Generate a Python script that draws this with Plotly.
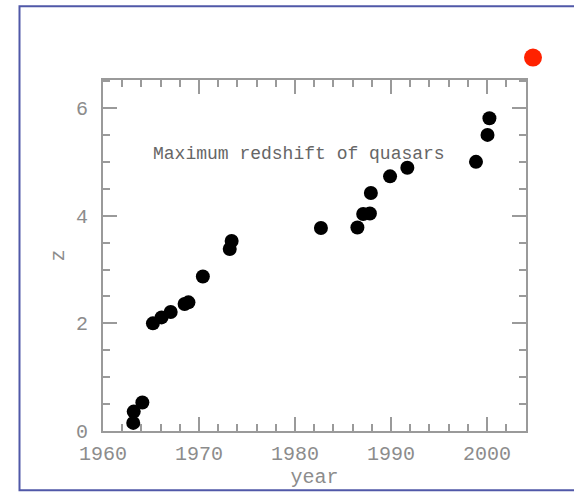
import plotly.graph_objects as go

# Discovery year and redshift of the most distant known quasar
years = [1963.15, 1963.2, 1964.1, 1965.2, 1966.1, 1967.05, 1968.5, 1968.9,
         1970.4, 1973.2, 1973.4, 1982.7, 1986.5, 1987.1, 1987.8, 1987.9,
         1989.9, 1991.7, 1998.85, 2000.05, 2000.25]
redshift = [0.15, 0.36, 0.53, 2.00, 2.11, 2.21, 2.36, 2.39,
            2.87, 3.38, 3.53, 3.77, 3.78, 4.03, 4.04, 4.42,
            4.73, 4.89, 5.00, 5.50, 5.81]

x_ticks = [1960, 1970, 1980, 1990, 2000]
y_ticks = [0, 2, 4, 6]

FONT = "Liberation Mono"
GRAY = "#8c8c8c"
AXC = "#9a9a9a"

# plot area in page pixels
L, R, T, B = 103, 526, 79.5, 431.5
W, H = 574, 493
pw, ph = R - L, B - T

def px(x):
    return (x - L) / pw

def py(y):
    return (B - y) / ph

fig = go.Figure(go.Scatter(
    x=years, y=redshift, mode="markers",
    marker=dict(color="black", size=14, line=dict(width=0)),
    hoverinfo="x+y",
))

axis_common = dict(
    showgrid=False, zeroline=False, showline=True, linecolor=AXC, linewidth=2,
    mirror="ticks", ticks="inside", ticklen=14, tickwidth=2, tickcolor=AXC,
    tickfont=dict(family=FONT, size=20, color=GRAY),
    title_font=dict(family=FONT, size=20, color=GRAY),
    automargin=False,
)

fig.update_xaxes(
    range=[1960, 2004.06], tickvals=x_ticks, ticktext=[str(v) for v in x_ticks],
    minor=dict(dtick=2, tick0=1960, ticks="inside", ticklen=7, tickwidth=2, tickcolor=AXC),
    title_text="year", title_standoff=3, ticklabelstandoff=3,
    **axis_common,
)
fig.update_yaxes(
    range=[0, 6.52], tickvals=y_ticks, ticktext=[str(v) for v in y_ticks],
    minor=dict(dtick=0.5, tick0=0, ticks="inside", ticklen=7, tickwidth=2, tickcolor=AXC),
    title_text="z", title_standoff=6, ticklabelstandoff=9,
    **axis_common,
)

fig.add_annotation(
    x=px(299), y=py(142), xref="paper", yref="paper",
    text="Maximum redshift of quasars", showarrow=False,
    font=dict(family=FONT, size=18, color="#666666"),
)

# outer frame (left, top, bottom edges visible)
fig.add_shape(type="rect", xref="paper", yref="paper",
              x0=px(19.5), x1=px(600), y0=py(491), y1=py(5.5),
              line=dict(color="#5058a8", width=2), layer="below")

# red dot decoration
fig.add_shape(type="circle", xref="paper", yref="paper",
              x0=px(524), x1=px(542), y0=py(66), y1=py(48),
              fillcolor="#ff2200", line=dict(width=0))

fig.update_layout(
    width=W, height=H,
    margin=dict(l=L, r=W - R, t=T, b=H - B, pad=0, autoexpand=False),
    paper_bgcolor="white", plot_bgcolor="white",
    showlegend=False,
)

fig.write_html("out.html", config={"displayModeBar": False},
               post_script="document.body.style.margin='0';document.body.style.overflow='hidden';")
